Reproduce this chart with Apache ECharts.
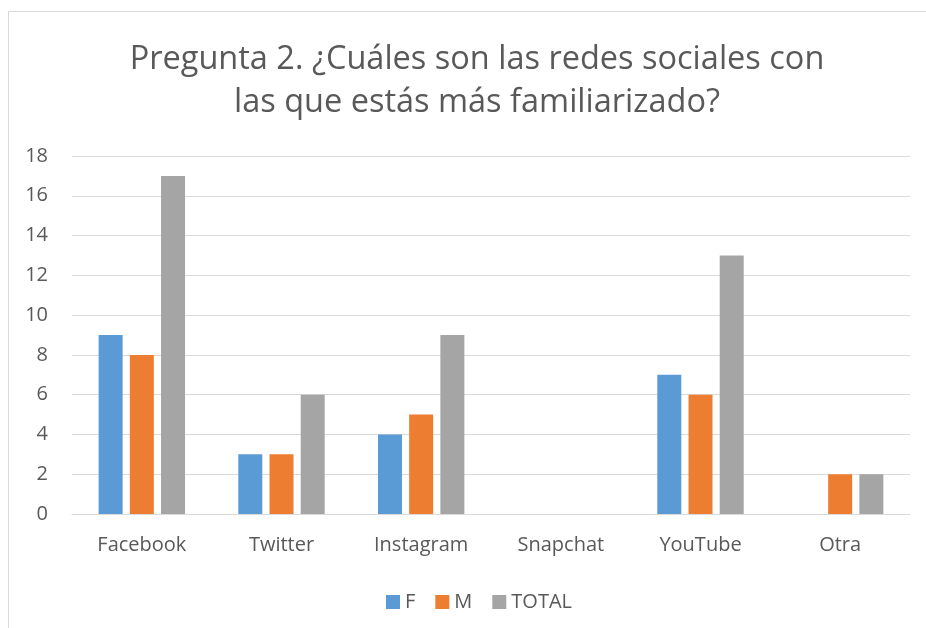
<!DOCTYPE html>
<html>
<head>
<meta charset="utf-8">
<script src="https://cdn.jsdelivr.net/npm/echarts@6/dist/echarts.min.js"></script>
<style>
  html, body { margin: 0; padding: 0; background: #fff; }
  #chart { width: 926px; height: 628px; }
</style>
</head>
<body>
<div id="chart"></div>
<script>
const categories = ['Facebook', 'Twitter', 'Instagram', 'Snapchat', 'YouTube', 'Otra']
const valuesF = [9, 3, 4, 0, 7, 0]
const valuesM = [8, 3, 5, 0, 6, 2]
const valuesTotal = [17, 6, 9, 0, 13, 2]
const seriesNames = ['F', 'M', 'TOTAL']
const colors = ['#5B9BD5', '#ED7D31', '#A5A5A5']

const textColor = '#595959'
const font = 'Open Sans'

const chart = echarts.init(document.getElementById('chart'))

function barSeries(name, data, color) {
  return {
    name: name,
    type: 'bar',
    data: data,
    barWidth: 24,
    barGap: '30%',
    itemStyle: { color: color }
  }
}

chart.setOption({
  animation: false,
  color: colors,
  graphic: [{
    type: 'rect',
    shape: { x: 8.5, y: 11.5, width: 1000, height: 1000 },
    style: { fill: 'none', stroke: '#d9d9d9', lineWidth: 1 },
    silent: true
  }],
  title: {
    text: 'Pregunta 2. ¿Cuáles son las redes sociales con\nlas que estás más familiarizado?',
    left: 472,
    textAlign: 'center',
    top: 33,
    textStyle: {
      color: textColor,
      fontFamily: font,
      fontWeight: 'normal',
      fontSize: 32.5,
      lineHeight: 43
    }
  },
  legend: {
    left: 381,
    top: 587,
    itemWidth: 14,
    itemHeight: 14,
    itemGap: 20,
    icon: 'rect',
    data: seriesNames,
    textStyle: { color: textColor, fontFamily: font, fontSize: 20 }
  },
  grid: { left: 72, right: 16, top: 156, bottom: 114 },
  xAxis: {
    type: 'category',
    data: categories,
    axisLine: { lineStyle: { color: '#d9d9d9', width: 1 } },
    axisTick: { show: false },
    axisLabel: { color: textColor, fontFamily: font, fontSize: 20, margin: 21 }
  },
  yAxis: {
    type: 'value',
    min: 0,
    max: 18,
    interval: 2,
    axisLine: { show: false },
    axisTick: { show: false },
    splitLine: { lineStyle: { color: '#d9d9d9', width: 1 } },
    axisLabel: { color: textColor, fontFamily: font, fontSize: 20, margin: 24 }
  },
  series: [
    barSeries(seriesNames[0], valuesF, colors[0]),
    barSeries(seriesNames[1], valuesM, colors[1]),
    barSeries(seriesNames[2], valuesTotal, colors[2])
  ]
})
</script>
</body>
</html>
